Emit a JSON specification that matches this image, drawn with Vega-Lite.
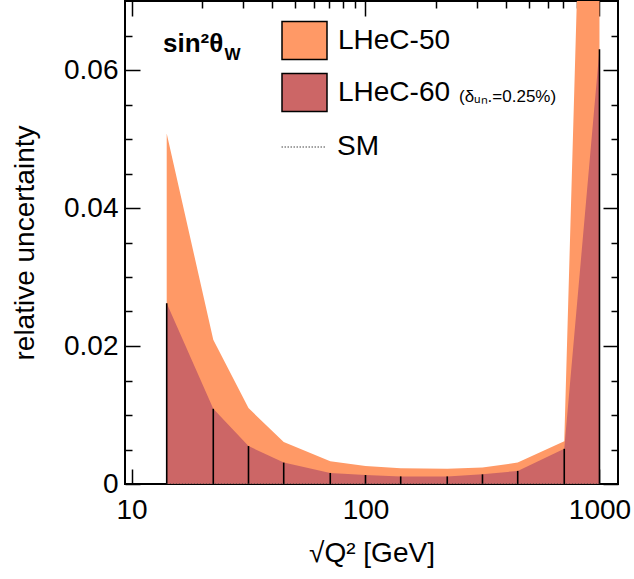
{
  "$schema": "https://vega.github.io/schema/vega-lite/v6.json",
  "width": 493,
  "height": 483,
  "autosize": {"type": "none"},
  "padding": {"left": 125, "top": 1, "right": 16, "bottom": 95},
  "background": "white",
  "title": {
    "text": "sin²θ",
    "subtitle": "\u200b\u00a0\u00a0\u00a0\u00a0\u00a0\u00a0\u00a0\u00a0\u00a0\u00a0\u00a0\u00a0\u00a0W",
    "anchor": "start",
    "frame": "group",
    "orient": "top",
    "offset": -63,
    "dx": 38,
    "fontSize": 26,
    "fontWeight": "bold",
    "font": "Liberation Sans",
    "color": "black",
    "subtitleFontSize": 17,
    "subtitleFontWeight": "bold",
    "subtitleFont": "Liberation Sans",
    "subtitleColor": "black",
    "subtitlePadding": -10
  },
  "data": {
    "values": [
      {"q": 14.14, "series": "LHeC-50", "v": 0.0508},
      {"q": 22.36, "series": "LHeC-50", "v": 0.0209},
      {"q": 31.62, "series": "LHeC-50", "v": 0.0110},
      {"q": 44.72, "series": "LHeC-50", "v": 0.0061},
      {"q": 70.71, "series": "LHeC-50", "v": 0.0033},
      {"q": 100, "series": "LHeC-50", "v": 0.0026},
      {"q": 141.4, "series": "LHeC-50", "v": 0.0023},
      {"q": 223.6, "series": "LHeC-50", "v": 0.0022},
      {"q": 316.2, "series": "LHeC-50", "v": 0.0024},
      {"q": 447.2, "series": "LHeC-50", "v": 0.0031},
      {"q": 707.1, "series": "LHeC-50", "v": 0.0062},
      {"q": 1000, "series": "LHeC-50", "v": 0.185},
      {"q": 14.14, "series": "LHeC-60", "v": 0.0262},
      {"q": 22.36, "series": "LHeC-60", "v": 0.0109},
      {"q": 31.62, "series": "LHeC-60", "v": 0.0055},
      {"q": 44.72, "series": "LHeC-60", "v": 0.0031},
      {"q": 70.71, "series": "LHeC-60", "v": 0.0016},
      {"q": 100, "series": "LHeC-60", "v": 0.0013},
      {"q": 141.4, "series": "LHeC-60", "v": 0.0011},
      {"q": 223.6, "series": "LHeC-60", "v": 0.0011},
      {"q": 316.2, "series": "LHeC-60", "v": 0.0014},
      {"q": 447.2, "series": "LHeC-60", "v": 0.0019},
      {"q": 707.1, "series": "LHeC-60", "v": 0.0051},
      {"q": 1000, "series": "LHeC-60", "v": 0.063},
      {"q": 14.14, "series": "SM", "v": 0},
      {"q": 1000, "series": "SM", "v": 0}
    ]
  },
  "layer": [
    {
      "transform": [{"filter": "datum.series === 'LHeC-50'"}],
      "mark": {"type": "area", "clip": true, "opacity": 1},
      "encoding": {
        "x": {"field": "q", "type": "quantitative",
          "scale": {"type": "log", "domain": [9.38, 1200], "nice": false},
          "axis": {"orient": "bottom", "values": [10, 100, 1000], "format": "d", "tickSize": -15, "labelPadding": 27.6, "title": "√Q² [GeV]", "titlePadding": 15}},
        "y": {"field": "v", "type": "quantitative", "stack": null,
          "scale": {"domain": [0, 0.07], "nice": false, "zero": false},
          "axis": {"orient": "left", "values": [0, 0.02, 0.04, 0.06], "format": ".2~f", "tickSize": -15, "labelPadding": 22, "title": "relative uncertainty", "titlePadding": 24}},
        "color": {"field": "series", "type": "nominal",
          "scale": {"domain": ["LHeC-50", "LHeC-60"], "range": ["#FF9966", "#CC6666"]},
          "legend": {"orient": "none", "legendX": 156, "legendY": 16, "padding": 0,
            "title": "(δᵤₙ.=0.25%)", "titleOrient": "right", "titleAnchor": "end", "titleBaseline": "line-bottom", "titleLineHeight": 34,
            "titleFontSize": 17, "titleFontWeight": "normal", "titleFont": "Liberation Sans", "titlePadding": 9, "titleColor": "black",
            "labelFontSize": 28, "labelFont": "Liberation Sans", "labelColor": "black", "labelOffset": 10, "labelLimit": 400,
            "symbolType": "M-1,-0.84H1V0.84H-1Z", "symbolSize": 2025, "symbolStrokeColor": "black", "symbolStrokeWidth": 1.5, "symbolOpacity": 1,
            "rowPadding": 6}}
      }
    },
    {
      "transform": [{"filter": "datum.series === 'LHeC-60'"}],
      "mark": {"type": "area", "clip": true, "opacity": 1},
      "encoding": {
        "x": {"field": "q", "type": "quantitative",
          "axis": {"orient": "bottom", "values": [20, 30, 40, 50, 60, 70, 80, 90, 200, 300, 400, 500, 600, 700, 800, 900], "labels": false, "tickSize": -7, "title": null}},
        "y": {"field": "v", "type": "quantitative", "stack": null,
          "axis": {"orient": "left", "values": [0.005, 0.01, 0.015, 0.025, 0.03, 0.035, 0.045, 0.05, 0.055, 0.065], "labels": false, "tickSize": -7, "title": null}},
        "color": {"field": "series", "type": "nominal"}
      }
    },
    {
      "transform": [{"filter": "datum.series === 'LHeC-60'"}],
      "mark": {"type": "rule", "color": "black", "strokeWidth": 1.6},
      "encoding": {
        "x": {"field": "q", "type": "quantitative",
          "axis": {"orient": "top", "values": [10, 100, 1000], "labels": false, "tickSize": -15, "title": null}},
        "y": {"field": "v", "type": "quantitative",
          "axis": {"orient": "right", "values": [0, 0.02, 0.04, 0.06], "labels": false, "tickSize": -15, "title": null}},
        "y2": {"datum": 0}
      }
    },
    {
      "transform": [{"filter": "datum.series === 'SM'"}],
      "mark": {"type": "line", "clip": true, "color": "#444", "strokeWidth": 1},
      "encoding": {
        "x": {"field": "q", "type": "quantitative",
          "axis": {"orient": "top", "values": [20, 30, 40, 50, 60, 70, 80, 90, 200, 300, 400, 500, 600, 700, 800, 900], "labels": false, "tickSize": -7, "title": null}},
        "y": {"field": "v", "type": "quantitative",
          "axis": {"orient": "right", "values": [0.005, 0.01, 0.015, 0.025, 0.03, 0.035, 0.045, 0.05, 0.055, 0.065], "labels": false, "tickSize": -7, "title": null}},
        "strokeDash": {"field": "series", "type": "nominal",
          "scale": {"domain": ["SM"], "range": [[1.5, 1.5]]},
          "legend": {"orient": "none", "legendX": 156, "legendY": 123, "padding": 0, "title": null,
            "labelFontSize": 28, "labelFont": "Liberation Sans", "labelColor": "black", "labelOffset": 10,
            "symbolType": "stroke", "symbolSize": 2025, "symbolStrokeColor": "#444", "symbolStrokeWidth": 1}}
      }
    }
  ],
  "resolve": {"axis": {"x": "independent", "y": "independent"}},
  "config": {
    "font": "Liberation Sans",
    "view": {"stroke": "black", "strokeWidth": 2},
    "axis": {"grid": false, "domain": false, "tickColor": "black", "tickWidth": 1.5,
      "labelColor": "black", "titleColor": "black", "labelFont": "Liberation Sans", "titleFont": "Liberation Sans",
      "labelFontSize": 28, "titleFontSize": 28, "titleFontWeight": "normal", "labelFlush": false, "labelOverlap": false}
  }
}
